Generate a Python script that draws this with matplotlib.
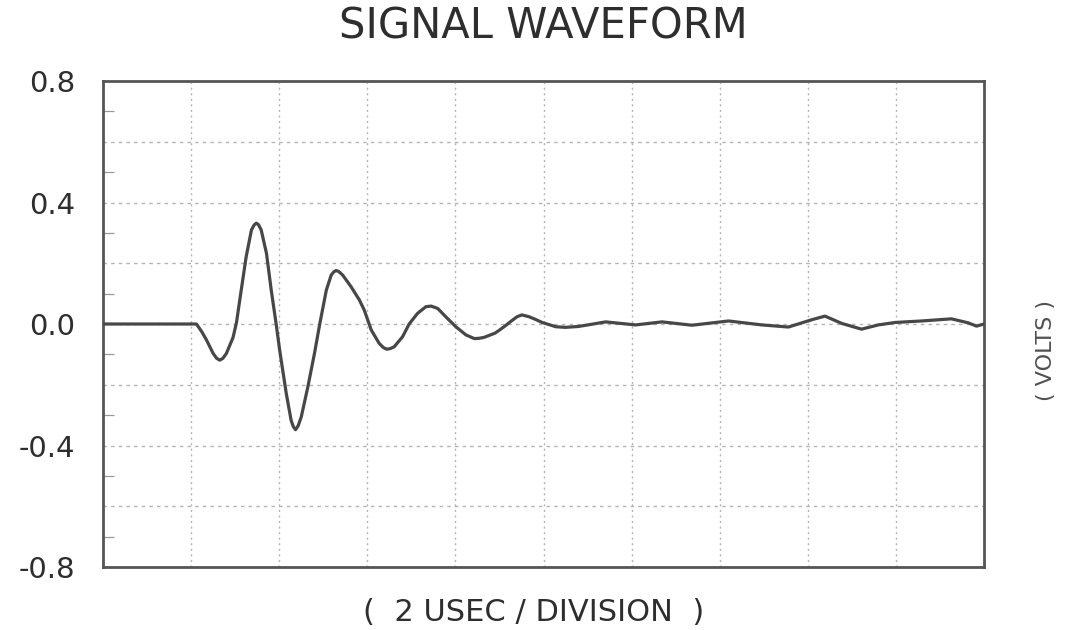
import matplotlib
matplotlib.use("Agg")
import matplotlib.pyplot as plt
from matplotlib.ticker import MultipleLocator, NullFormatter

# Sampled waveform: time in microseconds, amplitude in volts
time_us = [
    0.00, 2.12, 2.24, 2.35, 2.50, 2.58, 2.65, 2.72, 2.80, 2.95, 3.03,
    3.10, 3.25, 3.37, 3.43, 3.48, 3.53, 3.59, 3.71, 3.82, 3.93,
    4.01, 4.16, 4.27, 4.32, 4.37, 4.43, 4.50, 4.65, 4.80, 4.92,
    5.07, 5.18, 5.24, 5.29, 5.35, 5.44, 5.63, 5.82, 5.93, 6.09,
    6.27, 6.36, 6.44, 6.52, 6.61, 6.80, 6.95, 7.14, 7.33, 7.45,
    7.60, 7.78, 8.01, 8.24, 8.43, 8.54, 8.65, 8.90, 9.02, 9.14,
    9.27, 9.40, 9.51, 9.67, 9.82, 9.97, 10.28, 10.50, 10.80, 11.41,
    12.09, 12.69, 13.37, 14.20, 14.96, 15.56, 16.09, 16.39, 16.77, 17.22,
    17.60, 17.98, 18.58, 19.26, 19.64, 19.83, 20.00,
]
volts = [
    0.000, 0.000, -0.025, -0.053, -0.097, -0.113, -0.119, -0.113, -0.097, -0.045, 0.005,
    0.075, 0.222, 0.310, 0.326, 0.332, 0.327, 0.310, 0.233, 0.110, 0.000,
    -0.086, -0.229, -0.317, -0.338, -0.348, -0.335, -0.306, -0.207, -0.097, 0.000,
    0.112, 0.161, 0.172, 0.176, 0.173, 0.161, 0.123, 0.079, 0.046, -0.020,
    -0.064, -0.077, -0.083, -0.081, -0.075, -0.042, 0.000, 0.035, 0.057, 0.059,
    0.051, 0.024, -0.009, -0.036, -0.048, -0.047, -0.044, -0.030, -0.018, -0.005,
    0.010, 0.024, 0.030, 0.024, 0.015, 0.005, -0.009, -0.011, -0.008, 0.007,
    -0.003, 0.007, -0.004, 0.010, -0.003, -0.010, 0.014, 0.026, 0.002, -0.017,
    -0.003, 0.005, 0.010, 0.017, 0.004, -0.007, 0.000,
]

y_ticks = [-0.8, -0.4, 0.0, 0.4, 0.8]
y_tick_labels = ["-0.8", "-0.4", "0.0", "0.4", "0.8"]
y_minor_ticks = [-0.7, -0.5, -0.3, -0.1, 0.1, 0.3, 0.5, 0.7]
y_grid = [-0.6, -0.4, -0.2, 0.0, 0.2, 0.4, 0.6]
x_grid = [2, 4, 6, 8, 10, 12, 14, 16, 18]

ink = "#2e2e2e"
grid_gray = "#b4b4b4"

fig = plt.figure(figsize=(10.7, 6.3), dpi=100)
ax = fig.add_axes([0.0963, 0.100, 0.8233, 0.7714])

ax.plot(time_us, volts, color="#474747", linewidth=2.3,
        solid_joinstyle="round", solid_capstyle="round", zorder=3)

ax.set_xlim(0, 20)
ax.set_ylim(-0.8, 0.8)

# 2 µs per division, no time labels
ax.xaxis.set_major_locator(MultipleLocator(2))
ax.xaxis.set_major_formatter(NullFormatter())
ax.tick_params(axis="x", length=0)

ax.set_yticks(y_ticks)
ax.set_yticklabels(y_tick_labels)
ax.set_yticks(y_minor_ticks, minor=True)
ax.tick_params(axis="y", which="major", length=0, pad=20,
               labelsize=21, labelcolor=ink)
ax.tick_params(axis="y", which="minor", direction="in", length=8,
               width=0.9, color="#9a9a9a")

# grid lines at every division
for xv in x_grid:
    ax.axvline(xv, color=grid_gray, linewidth=1.0,
               linestyle=(0, (1.5, 2.5)), zorder=1)
for yv in y_grid:
    ax.axhline(yv, color=grid_gray, linewidth=1.0,
               linestyle=(0, (2.5, 3)), zorder=1)

for side in ["left", "right", "top", "bottom"]:
    ax.spines[side].set_color("#555555")
    ax.spines[side].set_linewidth(2.0)

fig.text(0.508, 0.958, "SIGNAL WAVEFORM", ha="center", va="center",
         fontsize=30, color=ink)
fig.text(0.499, 0.027, "(  2 USEC / DIVISION  )", ha="center", va="center",
         fontsize=22, color=ink)
fig.text(0.978, 0.444, "( VOLTS )", ha="center", va="center",
         rotation=90, fontsize=16, color="#505050")

fig.savefig("out.png", dpi=100, facecolor="white")
